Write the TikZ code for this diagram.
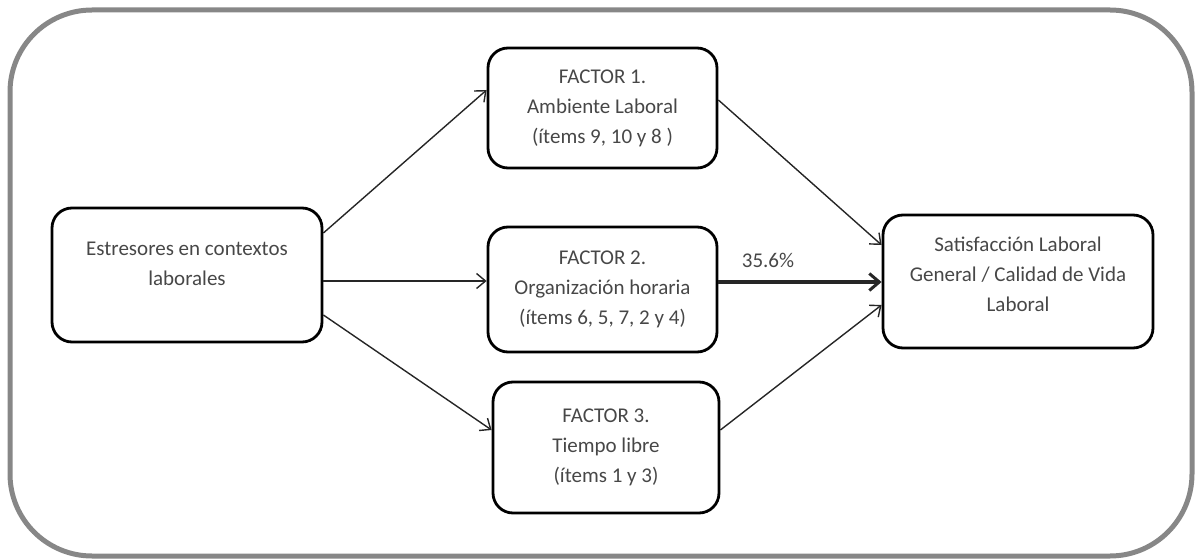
\documentclass[tikz,border=0pt]{standalone}
\usepackage{fontspec}
\setmainfont{Carlito}
\usetikzlibrary{arrows.meta}
\definecolor{framegray}{HTML}{878787}
\definecolor{txtgray}{HTML}{474747}
\begin{document}
\begin{tikzpicture}[x=1pt,y=-1pt,
  boxstyle/.style={draw=black, line width=2.8pt, rounded corners=20pt, inner sep=0pt},
  txtstyle/.style={text=txtgray, align=center, font=\fontsize{21}{30}\selectfont, inner sep=0pt},
  thinarrow/.style={draw=black!85, line width=1.4pt, -{Straight Barb[length=9pt,width=15pt,line width=1.4pt]}},
  thickarrow/.style={draw=black!85, line width=3.2pt, -{Straight Barb[length=10pt,width=17pt,line width=3pt]}}
]
\useasboundingbox (0,0) rectangle (1195,559);
\draw[framegray, line width=5pt, rounded corners=82pt] (10,10) rectangle (1192,556);

\node[boxstyle, minimum width=270pt, minimum height=134pt] (src) at (187,275) {};
\node[txtstyle] (srctext) at (187,264) {Estresores en contextos\\laborales};

\node[boxstyle, txtstyle, draw=black, minimum width=229pt, minimum height=120pt] (f1) at (602.5,108) {FACTOR 1.\\Ambiente Laboral\\(ítems 9, 10 y 8 )};
\node[boxstyle, txtstyle, draw=black, minimum width=229pt, minimum height=125pt] (f2) at (602.5,289.5) {FACTOR 2.\\Organización horaria\\(ítems 6, 5, 7, 2 y 4)};
\node[boxstyle, txtstyle, draw=black, minimum width=226pt, minimum height=131pt] (f3) at (606,447.5) {FACTOR 3.\\Tiempo libre\\(ítems 1 y 3)};

\node[boxstyle, minimum width=270pt, minimum height=133pt] (dst) at (1018,281.5) {};
\node[txtstyle] (dsttext) at (1018,274) {Satisfacción Laboral\\General / Calidad de Vida\\Laboral};

\node[txtstyle] (pct) at (768,260) {35.6\%};

\draw[thinarrow] ([yshift=42pt]src.east) -- ([yshift=18pt]f1.west);
\draw[thinarrow] ([yshift=-6pt]src.east) -- ([yshift=8.5pt]f2.west);
\draw[thinarrow] ([yshift=-40pt]src.east) -- ([yshift=17.5pt]f3.west);
\draw[thinarrow] ([yshift=8pt]f1.east) -- ([yshift=36.5pt]dst.west);
\draw[thickarrow] ([yshift=7.5pt]f2.east) -- ([yshift=-0.5pt]dst.west);
\draw[thinarrow] ([yshift=17.5pt]f3.east) -- ([yshift=-23.5pt]dst.west);
\end{tikzpicture}
\end{document}
